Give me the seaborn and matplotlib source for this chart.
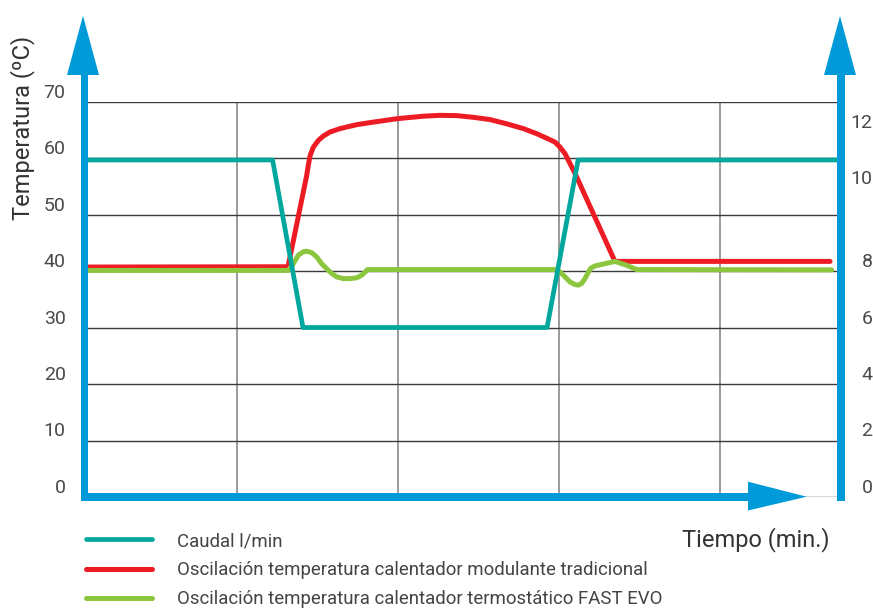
import numpy as np
import pandas as pd
import matplotlib
matplotlib.use("Agg")
import matplotlib.pyplot as plt
from matplotlib.patches import Polygon
import seaborn as sns

# ---------------- data ----------------
time_caudal = [0.06, 1.219, 1.408, 2.925, 3.118, 4.733]
caudal = [11.0, 11.0, 6.0, 6.0, 11.0, 11.0]

time_red = [0.06, 1.315, 1.431, 1.441, 1.452, 1.472, 1.503, 1.535, 1.576, 1.638,
            1.742, 1.845, 1.991, 2.156, 2.26, 2.364, 2.467, 2.571, 2.674, 2.778,
            2.861, 2.923, 2.975, 3.006, 3.037, 3.068, 3.1, 3.347, 4.684]
temp_red = [40.7, 40.75, 56.9, 58.7, 60.4, 61.9, 63.1, 63.9, 64.6, 65.2,
            65.9, 66.35, 66.95, 67.4, 67.55, 67.5, 67.2, 66.8, 66.05, 65.2,
            64.3, 63.5, 62.8, 61.9, 60.75, 59.0, 57.2, 41.7, 41.7]

time_green = [0.06, 1.317, 1.348, 1.379, 1.41, 1.431, 1.462, 1.493, 1.524, 1.555,
              1.587, 1.618, 1.659, 1.7, 1.742, 1.773, 1.794, 1.808, 2.985, 3.006,
              3.037, 3.068, 3.099, 3.119, 3.14, 3.161, 3.182, 3.197, 3.223, 3.347,
              3.42, 3.482, 4.694]
temp_green = [40.1, 40.1, 41.3, 42.8, 43.4, 43.5, 43.25, 42.5, 41.3, 40.4,
              39.55, 38.95, 38.65, 38.65, 38.8, 39.25, 39.8, 40.25, 40.25, 39.8,
              38.95, 38.05, 37.6, 37.5, 37.8, 38.65, 39.8, 40.5, 40.9, 41.7,
              41.0, 40.25, 40.2]

temp_ticks = [0, 10, 20, 30, 40, 50, 60, 70]
flow_ticks = [0, 2, 4, 6, 8, 10, 12]
time_grid = [1, 2, 3, 4]

# right axis (flow) is drawn with an irregular scale in the original artwork
flow_knots = [0, 8, 10, 12, 14]
flow_pos = [0, 40, 54.7, 64.6, 74.5]

labels = ["Caudal l/min",
          "Oscilación temperatura calentador modulante tradicional",
          "Oscilación temperatura calentador termostático FAST EVO"]

TEAL = "#00A79D"
RED = "#ED1C24"
GREEN = "#8CC63F"
BLUE = "#009AD9"

# ---------------- figure ----------------
sns.set_style("white")
plt.rcParams["font.family"] = ["Roboto", "DejaVu Sans"]

W, H = 873, 608
fig = plt.figure(figsize=(W / 100, H / 100), dpi=100)
ax_l, ax_r, ax_b, ax_t = 84.5, 841, 497, 101.5
ax = fig.add_axes([ax_l / W, 1 - ax_b / H, (ax_r - ax_l) / W, (ax_b - ax_t) / H])
ax2 = ax.twinx()

def fwd(v):
    return np.interp(v, flow_knots, flow_pos)

def inv(p):
    return np.interp(p, flow_pos, flow_knots)

ax2.set_yscale("function", functions=(fwd, inv))

df_red = pd.DataFrame({"t": time_red, "v": temp_red})
df_green = pd.DataFrame({"t": time_green, "v": temp_green})
df_cau = pd.DataFrame({"t": time_caudal, "v": caudal})

sns.lineplot(data=df_red, x="t", y="v", ax=ax, color=RED, lw=3.6,
             estimator=None, sort=False, label=labels[1])
sns.lineplot(data=df_green, x="t", y="v", ax=ax, color=GREEN, lw=3.6,
             estimator=None, sort=False, label=labels[2])
sns.lineplot(data=df_cau, x="t", y="v", ax=ax2, color=TEAL, lw=3.4,
             estimator=None, sort=False, label=labels[0])

for a in (ax, ax2):
    if a.get_legend() is not None:
        a.get_legend().remove()
    for s in a.spines.values():
        s.set_visible(False)

ax.set_xlim(0.05, 4.752)
ax.set_ylim(0, 70)
ax2.set_ylim(0, inv(70))

ax.set_xticks(time_grid)
ax.set_xticklabels([])
ax.tick_params(axis="x", length=0)

tick_font = dict(fontsize=14, color="#4a4a4a")
ax.set_yticks(temp_ticks, [str(v) for v in temp_ticks], va="bottom", ha="right", **tick_font)
ax.tick_params(axis="y", length=0, pad=13.5)

ax2.set_yticks(flow_ticks, [str(v) for v in flow_ticks], va="bottom", ha="right", **tick_font)
ax2.tick_params(axis="y", length=0, pad=22.7)
ax2.grid(False)

ax.grid(True, axis="y", color="#3a3a3a", lw=1.0)
ax.grid(True, axis="x", color="#8a8a8a", lw=1.2)
ax.set_axisbelow(True)

ax.set_ylabel("Temperatura (ºC)", fontsize=17, color="#333333")
ax.yaxis.label.set_va("center")
ax.yaxis.set_label_coords((23 - ax_l) / (ax_r - ax_l), (ax_b - 127.5) / (ax_b - ax_t))
ax2.set_ylabel("")
ax.set_xlabel("Tiempo (min.)", fontsize=17, color="#333333")
ax.xaxis.label.set_ha("right")
ax.xaxis.label.set_va("center")
ax.xaxis.set_label_coords((830 - ax_l) / (ax_r - ax_l), (ax_b - 540) / (ax_b - ax_t))

# ---------------- axis arrows (decoration) ----------------
def P(x, y):
    return (x / W, 1 - y / H)

shapes = [
    [(80.7, 75), (88.3, 75), (88.3, 500.8), (80.7, 500.8)],
    [(80.7, 493.2), (749, 493.2), (749, 500.8), (80.7, 500.8)],
    [(837.2, 75), (844.8, 75), (844.8, 500.8), (837.2, 500.8)],
    [(67, 75), (99, 75), (83, 15.7)],
    [(824, 75), (856, 75), (840, 16)],
    [(748, 481.7), (748, 510.5), (806.7, 496.7)],
]
for sh in shapes:
    fig.add_artist(Polygon([P(*p) for p in sh], closed=True, transform=fig.transFigure,
                           facecolor=BLUE, edgecolor="none", zorder=5))

# ---------------- legend ----------------
h1, _ = ax.get_legend_handles_labels()
h2, _ = ax2.get_legend_handles_labels()
handles = h2 + h1
fs = 13.4
fspx = fs * 100 / 72
fig.legend(handles, labels, loc="upper left",
           bbox_to_anchor=P(86, 532), bbox_transform=fig.transFigure,
           frameon=False, borderpad=0, borderaxespad=0,
           prop=dict(family=["Roboto", "DejaVu Sans"], size=fs),
           handlelength=66 / fspx, handletextpad=25 / fspx,
           labelspacing=0.6, labelcolor="#444444")

fig.savefig("out.png", dpi=100)
